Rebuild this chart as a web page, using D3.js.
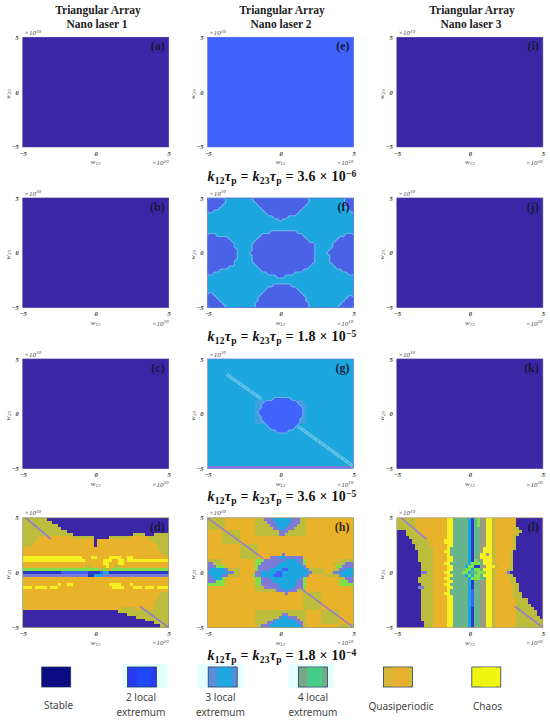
<!DOCTYPE html>
<html><head><meta charset="utf-8">
<script src="https://cdn.jsdelivr.net/npm/d3@7"></script>
<style>html,body{margin:0;padding:0;background:#fff}svg{display:block}</style>
</head><body><svg id="c" width="550" height="723"></svg>
<script>
// ---------- data ----------
const classKeys   = ["P","B","F","C","H","V","T","G","L","O","Y","D","U"];
const classColors = ["#3a25a5","#3f63fb","#4862e6","#1fa8df","#3fa0dc","#7d7ad8","#68b48c","#80e04a","#bcbc3c","#e8b32c","#f6f022","#2a3cc8","#9c9c80"];
const tickValues = [-5,0,5];
const columnTitles = ["Nano laser 1","Nano laser 2","Nano laser 3"];
const couplingLabels = ["3.6","1.8","3.6","1.8"];
const couplingExponents = ["−6","−5","−5","−4"];
const legendLabels = [["Stable"],["2 local","extremum"],["3 local","extremum"],["4 local","extremum"],["Quasiperiodic"],["Chaos"]];
const legendFill = ["#0c0c82","#1f48f6","#1fa8df","#45cc88","#e8b030","#f0f512"];
const legendSide = ["#0c0c82","#2a38ee","#5a8cdc","#78a888","#d8b834","#f0f512"];

const aRows=["P0"], bRows=["P0"], cRows=["P0"], iRows=["P0"], jRows=["P0"], kRows=["P0"];
const eRows=["B0"];
const fRows=[
"F0 C6 F15 C34 F46","F0 C6 F16 C34 F46","F0 C5 F17 C33 F46","F0 C4 F18 C32 F47","F0 C2 F19 C31 F48",
"C0 F20 C30","C0 F22 C27","C0 F24 C25","C0","C0","C0",
"C0 F21 C30","F0 C3 F18 C32 F46","F0 C7 F17 C33 F44","F0 C8 F16 C34 F43","F0 C9 F15 C36 F42","F0 C9 F15 C36 F42",
"F0 C10 F15 C36 F41","F0 C10 F14 C36 F40","F0 C10 F15 C36 F41","F0 C10 F15 C36 F41","F0 C9 F15 C36 F41","F0 C9 F16 C35 F42",
"F0 C7 F17 C34 F43","F0 C4 F18 C32 F45","F0 C2 F20 C29 F47","C0 F23 C26","C0","C0",
"C0 F22 C28","C0 F20 C30","C0 F19 C31","F0 C2 F18 C32","F0 C3 F17 C33 F47","F0 C4 F17 C33 F46","F0 C5 F16 C34 F45","F0 C6 F16 C34 F44"];
const gRows=[
"C0","C0","C0","C0","C0","C0","C0","C0","C0","C0","C0","C0","C0",
"C0 B22 C28","C0 H16 B19 H30 C32","C0 H16 B18 H31 C33","C0 H16 B18 H32 C33","C0 H16 B17 H32 C33","C0 H16 B17 H32 C33",
"C0 H16 B18 H32 C33","C0 H16 B18 H31 C33","C0 H16 B19 H31 C33","C0 B20 C30","C0 B21 C29","C0 B23 C27",
"C0","C0","C0","C0","C0","C0","C0","C0","C0","C0","C0","V0"];
const dRows=[
"L0 P8","L0 P10","L0 P12","L0 P13","L0 P15","L0 P17 L37 P41 L44","L0 O5 L17 P24 L29 O36 L42",
"L0 O5 P24 O25 L42","L0 O4 P24 O25 L44","L0 O3 P24 O25 L45","O0 L45","O0 L46","O0 L47",
"Y0 O20 Y23 O25 Y29 O33 Y35 O37","Y0 O21 Y27 O30 Y32 O34 Y35","O0 Y27 O29 Y32 O34","O0 L21 O23 Y28 O29 L31 O33",
"G0 L26 G27 L28 G30","D0 B13 D22 B26 C27 D29","V0 D22 C24 V27","O0","O0",
"O0 Y12 O13 Y15 O17 Y29 O33 Y36 O37","Y0 O3 Y4 O8 Y9 O12 O28 Y30 O34 Y37 O40 Y41 O44 Y45","O0","O0 L46","O0 L45","O0 L45","O0 L44","O0 L44",
"O0 L33 O38 L44","P0 L32","P0 L35","P0 L38","P0 L41","P0 L44","P0 L46"];
const hRows=[
"L0 O6 L16 V19 C22 V28 L31 O33","L0 O6 L16 V20 C23 V28 L31 O33","L0 O6 L16 V21 C23 V27 L30 O33","L0 O6 L16 V22 C24 V26 L29 O33",
"O0 L5 O11 L16 V24 L27 O33","O0 L5 O11 L16 V24 L26 O33","O0 L5 O11","O0 L5 O11","O0 L5 O11",
"O0 L11 O17","O0 L11 O17","O0 L11 O17","O0 L11 O17 V25 O26","O0 L11 O17 V21 C24 V26 O32",
"L0 O5 G16 V19 C26 V30 G32 O33 L44","V0 L2 O5 G16 V18 C24 V31 G32 O33 L42 V46","V0 G3 O6 G16 V17 C23 V32 O33 G43 V45",
"V0 C1 V6 L7 O11 G16 V17 C21 B25 C27 V33 L34 O39 L42 V44 C46","C0 V7 L9 O11 V16 C18 B23 C25 V34 L35 O39 L41 V42 C44","V0 C1 V5 L7 O11 G15 V16 C18 B22 C25 V33 O34 L39 L42 V44 C45",
"V0 C2 G5 O6 G16 V18 C21 V31 G32 O33 L44 V46","V0 G3 O6 G16 V18 C22 V30 G32 O33 G44 V47","G0 O6 G16 V18 C24 V30 G32 O33 G44",
"O0 L16 V19 C24 V29 G32 O33","O0 L16 V23 C26 V27 L30 O33","O0 V26 O27 L32 O38","O0 L32 O38","O0 L32 O38","O0 L32 O38","O0 L32 O38","O0 L32 O38",
"O0 L16 O33 L38 O44","O0 L16 V25 L27 O33 L38 O44","O0 L16 V24 C25 V27 L30 O33 L38 O44","O0 L16 V22 C23 V29 L31 O33 L38 O44","O0 L16 V20 C22 V30 L32 O33 L38 O44","O0 L16 V18 C21 V31 L32 O33 L44"];
const lRows=[
"L0 O6 Y17 T19 C24 D25 T26 G27 U28 Y30 L32 O33 P40","L0 O6 Y17 T19 C24 D25 T26 G27 U28 Y30 L32 O33 P40","L0 O6 Y17 T19 C24 D25 T26 G27 U28 Y30 L32 O33 P40",
"L0 O7 Y17 T19 C24 D25 T26 U28 Y30 L32 O33 L39 P41","P0 L3 O7 Y17 T19 C24 D25 T26 U28 Y30 L32 O33 L40 P42","P0 L3 O8 Y17 T19 C24 D25 T26 U28 Y30 L32 O33 L39 P41",
"P0 L4 O9 Y17 T19 C24 D25 T26 U28 Y30 L32 O33 L39 P40","P0 L5 O10 Y16 T19 C24 D25 T26 U28 Y30 L32 O33 L39 P40","P0 L5 O11 Y16 T19 C24 D25 T26 U28 Y30 L32 O33 L39 P40",
"P0 L6 O11 Y17 T19 C24 D25 T26 U28 Y30 L32 O33 L39 P40","P0 L6 O12 Y17 T18 C24 D25 T26 U28 Y29 L32 O33 L39 P40","P0 L7 O12 Y16 T18 C24 D25 T26 U28 Y29 L32 O33 L38 P39",
"P0 L7 O12 Y17 T18 C24 D25 T26 U28 Y28 U30 Y31 L32 O33 L38 P39","P0 L7 O12 Y17 T19 C24 D25 T26 U27 Y28 L32 O33 L38 P39","P0 L7 O12 Y17 T19 C24 D25 G26 T27 U28 Y29 L32 O33 L38 P39",
"P0 L8 O12 Y16 T18 C24 G25 T28 Y29 L32 O33 L38 P39","P0 L8 O12 Y17 T19 C23 G24 D26 U28 Y30 L33 O34 L38 P39","P0 L8 O12 Y17 T19 G23 C25 G26 T28 Y29 L32 O33 L37 P39",
"P0 V8 L10 O12 Y16 T18 G22 C24 T25 G27 Y30 L32 O33 V37 P38","P0 L8 O12 Y17 T19 C23 G24 C25 G26 T28 Y29 L32 O33 L37 P39","P0 L7 O12 Y16 T18 C24 G25 T28 Y30 L32 O33 L38 P40",
"P0 L7 O12 Y17 T19 C24 D25 T26 U28 Y30 L32 O33 L38 P40","P0 L8 O12 Y16 T18 C24 D25 T26 U28 Y30 L32 O33 L39 P41","P0 V7 L9 O12 Y17 T19 C24 D25 T26 U28 Y30 L32 O33 L39 P41",
"P0 L8 O12 Y17 T18 C24 B25 T26 U28 Y30 L32 O33 L39 P41","P0 L8 O12 Y16 T18 C24 B25 T26 U28 Y30 L32 O33 L39 P42","P0 L8 O12 Y17 T19 C24 B25 T26 U28 Y30 L32 O33 L39 P42",
"P0 L8 O12 Y17 T19 C24 B25 T26 U28 Y30 L32 O33 L40 P44","P0 L8 O12 Y17 T19 C24 B25 T26 U28 Y30 L32 O33 L40 P44","P0 L8 O12 Y17 T19 C24 B25 T26 U28 Y30 L32 O33 L40 P45",
"P0 L8 O12 Y17 T19 C24 D25 T26 U28 Y30 L32 O33 L40 P46","P0 L8 O12 Y17 T19 C24 D25 T26 U28 Y30 L32 O33 L40 P47","P0 L8 O12 Y17 T19 C24 D25 T26 U28 Y30 L32 O33 L40 P47",
"P0 L8 O12 Y17 T19 C24 D25 T26 U28 Y30 L32 O33 L40 P48","P0 L8 O12 Y17 T19 C24 D25 T26 U28 Y30 L32 O33 L40","P0 L9 O12 Y17 T19 C24 D25 T26 U28 Y30 L32 O33 L40","P0 L9 O12 Y17 T19 C24 D25 T26 U28 Y30 L32 O33 L40"];

// lines in parameter space: [w12 start, w23 start, w12 end, w23 end]
const dLines=[[-4.8,5,-3.1,3.1],[3.05,-3.1,5,-5]];
const gLines=[[-3.7,3.6,-1.3,1.35],[1.2,-1.15,5,-4.8]];
const hLines=[[-5,5,-1.2,1.3],[1.2,-1.25,5,-5],[-1.3,-1.1,-0.7,-1.4]];
const lLines=[[-4.7,5,-3,3.1],[3.1,-3.1,5,-5]];

// ---------- layout ----------
const colX=[22.7,207.5,396.8], rowY=[37.3,198,359,517.8], PW=146, PH=109.6, COLS=49;
const color=d3.scaleOrdinal(classKeys,classColors);
const svg=d3.select("#c");
const serif="'Liberation Serif','Times New Roman',serif", sans="'Noto Sans','Open Sans',sans-serif";

const defs=svg.append("defs");
defs.append("filter").attr("id","soft").attr("x","-2%").attr("y","-2%").attr("width","104%").attr("height","104%")
  .append("feGaussianBlur").attr("stdDeviation",0.7);

function parseRow(s){
  const t=s.split(" ").map(p=>({k:p[0],c:+p.slice(1)}));
  return t.map((p,i)=>({k:p.k,c0:p.c,c1:i<t.length-1?t[i+1].c:COLS}));
}

const panels=[
 {rows:aRows,l:"(a)",c:0,r:0,frame:"#4a3a98"},{rows:bRows,l:"(b)",c:0,r:1,frame:"#4a3a98"},{rows:cRows,l:"(c)",c:0,r:2,frame:"#4a3a98"},{rows:dRows,l:"(d)",c:0,r:3,frame:"#8a8a60",lines:dLines,lw:1.6,lc:"#8a7cd8"},
 {rows:eRows,l:"(e)",c:1,r:0,frame:"#5068e0"},{rows:fRows,l:"(f)",c:1,r:1,frame:"#4a5ec8",edge:"F",ec:"#6cb4ea"},{rows:gRows,l:"(g)",c:1,r:2,frame:"#6a7fd6",edge:"B",ec:"#6ab0ea",lines:gLines,dbl:true},{rows:hRows,l:"(h)",c:1,r:3,frame:"#8a8a50",lines:hLines,lw:1.6,lc:"#a27cc4"},
 {rows:iRows,l:"(i)",c:2,r:0,frame:"#4a3a98"},{rows:jRows,l:"(j)",c:2,r:1,frame:"#4a3a98"},{rows:kRows,l:"(k)",c:2,r:2,frame:"#4a3a98"},{rows:lRows,l:"(l)",c:2,r:3,frame:"#a09060",lines:lLines,lw:1.6,lc:"#9a7cd8"}
];

panels.forEach(p=>{
  const x0=colX[p.c],y0=rowY[p.r];
  const x=d3.scaleLinear([-5,5],[x0,x0+PW]), y=d3.scaleLinear([-5,5],[y0+PH,y0]);
  const nr=p.rows.length;
  const colV=d3.scaleLinear([0,COLS],[-5,5]), rowV=d3.scaleLinear([0,nr],[5,-5]);
  const cells=p.rows.flatMap((s,r)=>parseRow(s).map(d=>({...d,r})));
  const id="clip"+p.c+p.r;
  defs.append("clipPath").attr("id",id).append("rect").attr("x",x0).attr("y",y0).attr("width",PW).attr("height",PH);
  const wrap=svg.append("g").attr("clip-path",`url(#${id})`);
  const g=wrap.append("g").attr("filter","url(#soft)").attr("shape-rendering","crispEdges");
  g.selectAll("rect").data(cells).join("rect")
    .attr("x",d=>x(colV(d.c0))).attr("y",d=>y(rowV(d.r)))
    .attr("width",d=>x(colV(d.c1))-x(colV(d.c0))+0.4)
    .attr("height",d=>y(rowV(d.r+1))-y(rowV(d.r))+0.4)
    .attr("fill",d=>color(d.k));
  if(p.edge){
    const mask=[];
    p.rows.forEach(s=>{const row=new Array(COLS).fill(0);parseRow(s).forEach(d=>{if(d.k===p.edge)for(let i=d.c0;i<d.c1;i++)row[i]=1;});mask.push(...row);});
    const cont=d3.contours().size([COLS,nr]).thresholds([0.5])(mask);
    const path=d3.geoPath(d3.geoTransform({point(a,b){this.stream.point(x(colV(a)),y(rowV(b)));}}));
    wrap.append("path").datum(cont[0]).attr("d",path).attr("fill","none").attr("stroke",p.ec).attr("stroke-width",1.1);
  }
  (p.lines||[]).forEach(L=>{
    const ln=wrap.append("line").attr("x1",x(L[0])).attr("y1",y(L[1])).attr("x2",x(L[2])).attr("y2",y(L[3]));
    if(p.dbl){
      ln.attr("stroke","#6cc6ea").attr("stroke-width",3.2);
      wrap.append("line").attr("x1",x(L[0])).attr("y1",y(L[1])).attr("x2",x(L[2])).attr("y2",y(L[3]))
        .attr("stroke","#2aa8de").attr("stroke-width",1).attr("stroke-dasharray","4 1.5");
    } else ln.attr("stroke",p.lc).attr("stroke-width",p.lw).attr("stroke-linecap","round");
  });
  svg.append("rect").attr("x",x0).attr("y",y0).attr("width",PW).attr("height",PH).attr("fill","none").attr("stroke",p.frame).attr("stroke-width",0.7);

  // axes
  const axB=svg.append("g").attr("transform",`translate(0,${y0+PH})`).call(d3.axisBottom(x).tickValues(tickValues).tickSize(0).tickPadding(4));
  const axL=svg.append("g").attr("transform",`translate(${x0},0)`).call(d3.axisLeft(y).tickValues(tickValues).tickSize(0).tickPadding(4));
  [axB,axL].forEach(a=>{a.select(".domain").remove();a.selectAll("text").attr("font-family",serif).attr("font-style","italic").attr("font-weight","bold").attr("font-size",6.5).attr("fill","#333");});
  const small=(xx,yy)=>svg.append("text").attr("x",xx).attr("y",yy).attr("font-family",serif).attr("font-style","italic").attr("font-size",7).attr("fill","#444");
  const wx=small(x0+PW/2,y0+PH+17.5).attr("text-anchor","middle");
  wx.append("tspan").text("w");wx.append("tspan").attr("font-size",5).attr("dy",1).text("12");
  const wy=svg.append("text").attr("transform",`translate(${x0-13},${y0+PH/2+2}) rotate(-90)`).attr("text-anchor","middle").attr("font-family",serif).attr("font-style","italic").attr("font-size",7).attr("fill","#444");
  wy.append("tspan").text("w");wy.append("tspan").attr("font-size",5).attr("dy",1).text("23");
  const mag=(xx,yy)=>{const n=small(xx,yy);n.append("tspan").text("×10");n.append("tspan").attr("font-size",5).attr("dy",-2.2).text("10");};
  mag(x0+PW-17,y0+PH+18);
  mag(x0+1.5,y0-2.5);
  svg.append("text").attr("x",x0+PW-4).attr("y",y0+13).attr("text-anchor","end").attr("font-family",serif).attr("font-weight","bold").attr("font-size",12).attr("fill",p.r===3&&p.c===1?"#3a2410":"#15183a").text(p.l);
});

// column titles
[96,280,470].forEach((cx,i)=>{
  const t=svg.append("text").attr("text-anchor","middle").attr("font-family",serif).attr("font-weight","bold").attr("font-size",11.5).attr("fill","#222");
  t.append("tspan").attr("x",cx+2).attr("y",14).text("Triangular Array");
  t.append("tspan").attr("x",cx+1).attr("y",28).text(columnTitles[i]);
});

// legend
const legendX=[41.7,127.5,208.2,298.4,383.4,471.8], legendHalo=[0,1,1,1,0,0];
const labelCx=[58.5,141,220.5,313,401,487.5];
legendLabels.forEach((lab,i)=>{
  const X=legendX[i],Y=667,W=29,H=20;
  if(legendHalo[i]) svg.append("rect").attr("x",X-(i===1?5:10)).attr("y",Y-3).attr("width",45).attr("height",24).attr("fill","#e2fefe");
  svg.append("rect").attr("x",X).attr("y",Y).attr("width",W).attr("height",H).attr("fill",legendSide[i]).attr("stroke","#2a3a5a").attr("stroke-width",0.8);
  svg.append("rect").attr("x",X+9).attr("y",Y+.5).attr("width",W-14).attr("height",H-1).attr("fill",legendFill[i]);
  const single=lab.length===1;
  lab.forEach((s,j)=>svg.append("text").attr("x",labelCx[i]).attr("y",single?(i===0?708.5:709.5):701+j*14.5).attr("text-anchor","middle").attr("font-family",sans).attr("font-size",10).attr("fill","#444").text(s));
});

// coupling formulas (drawn last so they sit above the legend halos)
[181,341,501,660].forEach((yy,i)=>{
  const t=svg.append("text").attr("x",282).attr("y",yy).attr("text-anchor","middle").attr("font-family",serif).attr("font-weight","bold").attr("font-size",14).attr("letter-spacing",0.25).attr("fill","#111");
  const it=(s)=>t.append("tspan").attr("font-style","italic").text(s);
  const sb=(s)=>t.append("tspan").attr("font-size",9.5).attr("dy",2.5).text(s);
  const up=(s)=>t.append("tspan").attr("dy",-2.5).text(s);
  it("k");sb("12");t.append("tspan").attr("dy",-2.5).attr("font-style","italic").text("τ");sb("p");up(" =  ");
  it("k");sb("23");t.append("tspan").attr("dy",-2.5).attr("font-style","italic").text("τ");sb("p");up(" = "+couplingLabels[i]+" × 10");
  t.append("tspan").attr("dy",-4.5).attr("font-size",9.5).text(couplingExponents[i]);
});
</script></body></html>
